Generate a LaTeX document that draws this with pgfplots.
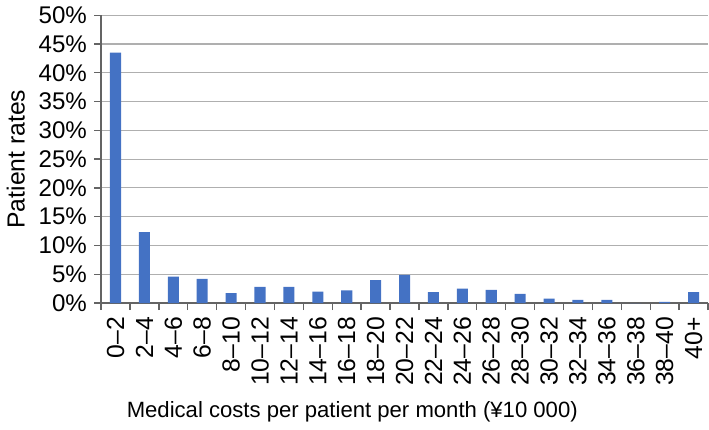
\documentclass[border=0pt]{standalone}
\usepackage{pgfplots}
\pgfplotsset{compat=1.18}
\usepackage{fontspec}
\setmainfont{Liberation Sans}
\definecolor{barblue}{RGB}{68,114,196}
\definecolor{gridgray}{RGB}{175,175,175}
\definecolor{axgray}{RGB}{100,100,100}
\begin{document}
\begin{tikzpicture}
\begin{axis}[
  scale only axis,
  width=302pt, height=143.2pt,
  ybar, bar width=5.5pt,
  xmin=-0.5, xmax=20.5, ymin=0, ymax=50,
  axis x line=bottom, axis y line=left,
  axis line style={-, axgray, line width=0.7pt},
  ytick={0,5,...,50},
  yticklabel={\pgfmathprintnumber{\tick}\%},
  ymajorgrids, grid style={gridgray, line width=0.55pt},
  tick align=outside,
  major tick length=3.5pt, minor tick length=3.5pt,
  every tick/.style={axgray, line width=0.7pt},
  xtick={0,...,20},
  major x tick style={draw=none},
  minor xtick={-0.5,0.5,...,20.5},
  xticklabels={0--2,2--4,4--6,6--8,8--10,10--12,12--14,14--16,16--18,18--20,20--22,22--24,24--26,26--28,28--30,30--32,32--34,34--36,36--38,38--40,40+},
  x tick label style={rotate=90, anchor=east, font=\fontsize{12.3}{14}\selectfont},
  y tick label style={font=\fontsize{12}{14}\selectfont},
  /pgf/number format/assume math mode=true,
  xlabel={Medical costs per patient per month (¥10 000)},
  ylabel={Patient rates},
  xlabel style={font=\fontsize{11}{13}\selectfont, xshift=-26pt, yshift=-1pt},
  ylabel style={font=\fontsize{12.3}{14}\selectfont},
  clip=false,
]
\addplot[fill=barblue, draw=none] coordinates {
(0,43.5) (1,12.3) (2,4.6) (3,4.2) (4,1.7) (5,2.8) (6,2.8) (7,2.0) (8,2.2) (9,4.0)
(10,4.9) (11,1.9) (12,2.5) (13,2.3) (14,1.6) (15,0.75) (16,0.55) (17,0.55) (18,0) (19,0.2) (20,1.9)
};
\end{axis}
\end{tikzpicture}
\end{document}
